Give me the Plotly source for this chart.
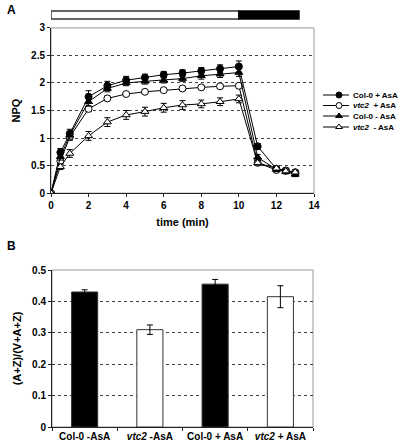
import plotly.graph_objects as go

# ---------------- Panel A data ----------------
time_min = [0, 0.5, 1, 2, 3, 4, 5, 6, 7, 8, 9, 10, 11, 12, 12.5, 13]
series_names = ["Col-0 + AsA", "<i>vtc2</i>  + AsA", "Col-0 - AsA", "<i>vtc2</i>  - AsA"]
col0_plus = [0, 0.74, 1.08, 1.75, 1.95, 2.05, 2.10, 2.15, 2.18, 2.22, 2.26, 2.30, 0.85, 0.44, 0.41, 0.37]
col0_plus_err = [0, 0.07, 0.08, 0.11, 0.08, 0.07, 0.06, 0.06, 0.06, 0.06, 0.07, 0.10, 0.05, 0.04, 0.04, 0.04]
vtc2_plus = [0, 0.58, 1.02, 1.53, 1.72, 1.80, 1.84, 1.87, 1.90, 1.92, 1.94, 1.95, 0.55, 0.42, 0.41, 0.38]
vtc2_plus_err = [0, 0.05, 0.06, 0.05, 0.04, 0.03, 0.03, 0.03, 0.03, 0.03, 0.03, 0.04, 0.04, 0.03, 0.03, 0.03]
col0_minus = [0, 0.66, 1.05, 1.66, 1.90, 2.00, 2.03, 2.05, 2.08, 2.13, 2.16, 2.19, 0.65, 0.43, 0.39, 0.34]
col0_minus_err = [0, 0.06, 0.07, 0.08, 0.06, 0.05, 0.05, 0.05, 0.05, 0.06, 0.06, 0.07, 0.05, 0.04, 0.04, 0.04]
vtc2_minus = [0, 0.48, 0.72, 1.04, 1.29, 1.42, 1.48, 1.55, 1.60, 1.62, 1.66, 1.71, 0.55, 0.45, 0.40, 0.38]
vtc2_minus_err = [0, 0.05, 0.07, 0.08, 0.08, 0.08, 0.08, 0.08, 0.08, 0.07, 0.07, 0.07, 0.04, 0.04, 0.04, 0.04]
light_period = [0, 10]
dark_period = [10, 13.2]

# ---------------- Panel B data ----------------
genotypes = ["Col-0 -AsA", "<i>vtc2</i> -AsA", "Col-0 + AsA", "<i>vtc2</i> + AsA"]
ratio = [0.43, 0.31, 0.455, 0.415]
ratio_err = [0.007, 0.015, 0.015, 0.035]
bar_colors = ["black", "white", "black", "white"]

FONT = "Liberation Sans"
fig = go.Figure()

styles = [
    dict(symbol="circle", color="black", line=dict(color="black", width=1)),
    dict(symbol="circle", color="white", line=dict(color="black", width=1)),
    dict(symbol="triangle-up", color="black", line=dict(color="black", width=1)),
    dict(symbol="triangle-up", color="white", line=dict(color="black", width=1)),
]
ys = [col0_plus, vtc2_plus, col0_minus, vtc2_minus]
errs = [col0_plus_err, vtc2_plus_err, col0_minus_err, vtc2_minus_err]
for name, y, e, st in zip(series_names, ys, errs, styles):
    fig.add_trace(go.Scatter(
        x=time_min, y=y, name=name, mode="lines+markers",
        line=dict(color="black", width=1),
        marker=dict(size=7, **st),
        error_y=dict(type="data", array=e, color="black", thickness=1, width=3),
        xaxis="x", yaxis="y", showlegend=False,
    ))

# compact legend drawn on a hidden helper axis (pixel-like units)
leg_rows = [95, 105.5, 116, 127]
for name, st, ry in zip(series_names, styles, leg_rows):
    fig.add_trace(go.Scatter(x=[323, 349], y=[ry, ry], mode="lines",
                             line=dict(color="black", width=1), xaxis="x3", yaxis="y3",
                             showlegend=False, hoverinfo="skip"))
    fig.add_trace(go.Scatter(x=[339], y=[ry], mode="markers",
                             marker=dict(size=6, **st), xaxis="x3", yaxis="y3",
                             showlegend=False, hoverinfo="skip"))
    fig.add_annotation(text=name, x=351, y=ry, xref="x3", yref="y3", showarrow=False,
                       xanchor="left", yanchor="middle",
                       font=dict(family=FONT, size=8, weight="bold", color="black"))

fig.add_trace(go.Bar(
    x=genotypes, y=ratio, marker=dict(color=bar_colors, line=dict(color="#333", width=1)),
    error_y=dict(type="data", array=ratio_err, color="black", thickness=1, width=3),
    xaxis="x2", yaxis="y2", showlegend=False, width=0.4,
))

tickfont = dict(family=FONT, size=10, color="black", weight="bold")
grid = dict(showgrid=True, gridcolor="#444", griddash="dot", gridwidth=1)

fig.update_layout(
    width=400, height=443, margin=dict(l=0, r=0, t=0, b=0, autoexpand=False),
    paper_bgcolor="white", plot_bgcolor="white",
    font=dict(family=FONT, color="black"),
    showlegend=False,
    xaxis=dict(domain=[0.1275, 0.785], anchor="y", range=[0, 14], dtick=2, tick0=0,
               showline=True, linecolor="#222", linewidth=1, ticks="outside", ticklen=3,
               tickcolor="#222", showgrid=False, zeroline=False, tickfont=tickfont,
               title=dict(text="time (min)", font=dict(family=FONT, size=11, weight="bold"), standoff=8)),
    yaxis=dict(domain=[0.564, 0.937], anchor="x", range=[0, 3], dtick=0.5,
               showline=True, linecolor="#222", linewidth=1, ticks="outside", ticklen=3,
               tickcolor="#222", zeroline=False, tickfont=tickfont, **grid,
               title=dict(text="NPQ", font=dict(family=FONT, size=11, weight="bold"), standoff=8)),
    xaxis2=dict(domain=[0.13, 0.7825], anchor="y2", showline=True, linecolor="#222",
                ticks="outside", ticklen=3, tickcolor="#222", tickson="boundaries",
                tickfont=dict(family=FONT, size=10, color="black", weight="bold"),
                showgrid=False),
    yaxis2=dict(domain=[0.0361, 0.3905], anchor="x2", range=[0, 0.5], dtick=0.1,
                showline=True, linecolor="#222", ticks="outside", ticklen=3, tickcolor="#222",
                zeroline=False, tickfont=tickfont, **grid,
                title=dict(text="(A+Z)/(V+A+Z)", font=dict(family=FONT, size=11, weight="bold"), standoff=8)),
    xaxis3=dict(domain=[323 / 400, 1.0], anchor="y3", range=[323, 400], visible=False, fixedrange=True),
    yaxis3=dict(domain=[1 - 140 / 443, 1 - 84 / 443], anchor="x3", range=[140, 84], visible=False, fixedrange=True),
    bargap=0.6,
)

# grey frame around plot areas
for xr, yr in [("x domain", "y domain"), ("x2 domain", "y2 domain")]:
    fig.add_shape(type="rect", xref=xr, yref=yr, x0=0, x1=1, y0=0, y1=1,
                  line=dict(color="#999", width=1), layer="below")

# light / dark bar above panel A
fig.add_shape(type="rect", xref="x", yref="paper", x0=light_period[0], x1=light_period[1],
              y0=0.957, y1=0.975, line=dict(color="#333", width=1.5), fillcolor="white")
fig.add_shape(type="rect", xref="x", yref="paper", x0=dark_period[0], x1=dark_period[1],
              y0=0.957, y1=0.975, line=dict(color="black", width=1.5), fillcolor="black")

fig.add_annotation(text="A", x=0.012, y=0.977, xref="paper", yref="paper", showarrow=False,
                   xanchor="left", yanchor="middle", font=dict(family=FONT, size=12, weight="bold"))
fig.add_annotation(text="B", x=0.012, y=0.445, xref="paper", yref="paper", showarrow=False,
                   xanchor="left", yanchor="middle", font=dict(family=FONT, size=12, weight="bold"))

fig.write_html("out.html", config={"displayModeBar": False},
               post_script="document.body.style.margin='0';document.body.style.overflow='hidden';")
